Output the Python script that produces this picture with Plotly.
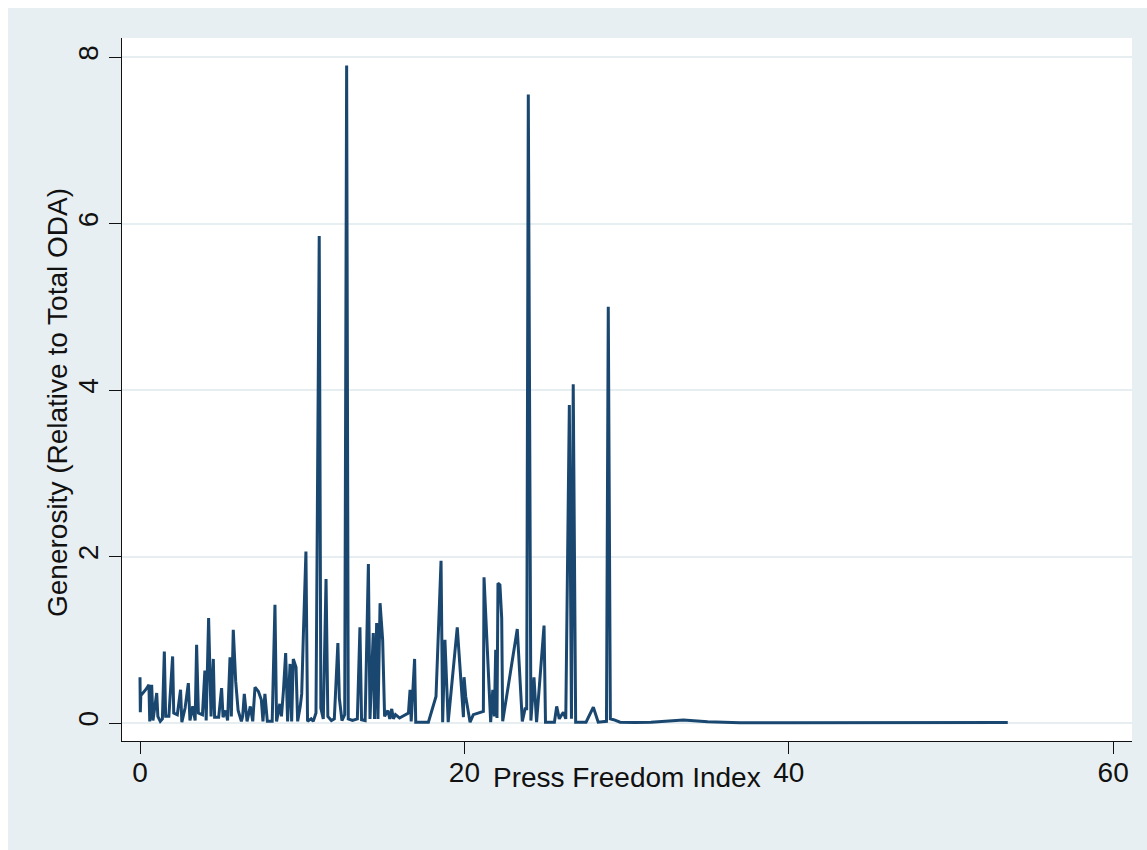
import plotly.graph_objects as go

# Press freedom score vs. aid generosity, one observation per recipient (sorted by x)
press_freedom = [
    0.00, 0.02, 0.05, 0.35, 0.55, 0.60, 0.72, 0.80, 1.03, 1.10, 1.25, 1.38,
    1.50, 1.58, 1.78, 2.01, 2.08, 2.30, 2.50, 2.58, 2.78, 2.98, 3.08, 3.25,
    3.40, 3.49, 3.60, 3.85, 4.00, 4.08, 4.23, 4.38, 4.52, 4.60, 4.85, 5.03,
    5.12, 5.28, 5.40, 5.55, 5.63, 5.75, 5.90, 6.05, 6.25, 6.33, 6.43, 6.60,
    6.80, 6.95, 7.09, 7.30, 7.48, 7.58, 7.70, 7.85, 8.15, 8.32, 8.42, 8.62,
    8.72, 8.84, 8.98, 9.10, 9.25, 9.35, 9.45, 9.62, 9.72, 9.88, 9.97, 10.07,
    10.23, 10.33, 10.55, 10.68, 10.85, 11.05, 11.15, 11.30, 11.47, 11.58,
    11.80, 11.98, 12.20, 12.29, 12.45, 12.62, 12.74, 12.84, 13.10, 13.40,
    13.56, 13.66, 13.88, 14.08, 14.18, 14.38, 14.46, 14.59, 14.67, 14.80,
    14.96, 15.08, 15.28, 15.40, 15.52, 15.62, 15.75, 16.00, 16.55, 16.65,
    16.72, 16.93, 17.00, 17.78, 18.25, 18.56, 18.66, 18.80, 19.00, 19.56,
    19.94, 19.98, 20.08, 20.35, 20.55, 21.17, 21.21, 21.62, 21.75, 21.85,
    21.93, 22.01, 22.07, 22.19, 22.30, 22.36, 23.26, 23.57, 23.74, 23.84,
    23.94, 24.10, 24.29, 24.45, 24.91, 25.00, 25.55, 25.69, 25.85, 26.00,
    26.10, 26.25, 26.47, 26.60, 26.71, 26.86, 27.50, 27.95, 28.25, 28.76,
    28.87, 29.00, 29.20, 29.60, 30.50, 31.50, 33.50, 35.00, 36.50, 37.00,
    40.00, 45.00, 50.00, 52.00, 53.50,
]
generosity = [
    0.55, 0.13, 0.33, 0.40, 0.46, 0.02, 0.46, 0.03, 0.36, 0.08, 0.02, 0.05,
    0.86, 0.08, 0.08, 0.80, 0.12, 0.10, 0.40, 0.01, 0.18, 0.48, 0.03, 0.20,
    0.03, 0.94, 0.12, 0.10, 0.63, 0.03, 1.26, 0.08, 0.77, 0.07, 0.07, 0.42,
    0.07, 0.15, 0.03, 0.79, 0.08, 1.12, 0.50, 0.15, 0.02, 0.08, 0.35, 0.02,
    0.20, 0.02, 0.43, 0.38, 0.28, 0.02, 0.35, 0.02, 0.02, 1.42, 0.02, 0.23,
    0.08, 0.38, 0.84, 0.02, 0.71, 0.02, 0.77, 0.67, 0.02, 0.20, 0.35, 1.05,
    2.06, 0.02, 0.05, 0.02, 0.12, 5.85, 0.18, 0.05, 1.73, 0.08,
    0.03, 0.05, 0.96, 0.30, 0.03, 0.10, 7.90, 0.05, 0.03, 0.05,
    1.15, 0.04, 0.03, 1.91, 0.05, 1.08, 0.05, 1.20, 0.05, 1.44,
    1.00, 0.08, 0.15, 0.05, 0.17, 0.05, 0.10, 0.06, 0.12, 0.40,
    0.02, 0.77, 0.01, 0.01, 0.32, 1.95, 0.01, 1.00, 0.01, 1.15,
    0.07, 0.55, 0.32, 0.01, 0.10, 0.14, 1.75, 0.01, 0.40, 0.08,
    0.88, 0.06, 1.68, 1.66, 1.26, 0.02, 1.13, 0.02, 0.17, 0.17,
    7.55, 0.03, 0.55, 0.01, 1.17, 0.01, 0.01, 0.20, 0.05, 0.10,
    0.13, 0.05, 3.82, 0.05, 4.07, 0.01, 0.01, 0.19, 0.01, 0.02,
    5.00, 0.05, 0.04, 0.01, 0.005, 0.01, 0.035, 0.015, 0.005, 0.003,
    0.003, 0.003, 0.003, 0.01, 0.005,
]

x_ticks = [0, 20, 40, 60]
y_ticks = [0, 2, 4, 6, 8]

x_title = "Press Freedom Index"
y_title = "Generosity (Relative to Total ODA)"

W, H = 1147, 850
ML, MR, MT, MB = 122, 15, 38, 109
PW, PH = W - ML - MR, H - MT - MB

BG = "#E8EFF2"
LINE = "#1A476F"
FONT = "Liberation Sans, Arial, Helvetica, sans-serif"


def px_to_paper_x(px):
    return (px - ML) / PW


def px_to_paper_y(py):
    return (H - MB - py) / PH


fig = go.Figure()
fig.add_trace(go.Scatter(
    x=press_freedom, y=generosity, mode="lines",
    line=dict(color=LINE, width=3),
    hoverinfo="x+y",
))

axis_common = dict(
    showline=True, linecolor="#111111", linewidth=1.4,
    ticks="outside", ticklen=12, tickwidth=1.4, tickcolor="#111111",
    tickfont=dict(family=FONT, size=28, color="#111111"),
    zeroline=False, mirror=False,
)

fig.update_xaxes(
    range=[-1.11, 61.16], tickvals=x_ticks, showgrid=False,
    ticklabelstandoff=-6, **axis_common,
)
fig.update_yaxes(
    range=[-0.216, 8.23], tickvals=y_ticks, tickangle=-90,
    showgrid=True, gridcolor="#E6EEF1", gridwidth=2, **axis_common,
)

# outer light panel, leaving a thin white border at top and left
fig.add_shape(type="rect", xref="paper", yref="paper", layer="below",
              x0=px_to_paper_x(0), x1=px_to_paper_x(8),
              y0=px_to_paper_y(H), y1=px_to_paper_y(0),
              fillcolor="white", line=dict(width=0))
fig.add_shape(type="rect", xref="paper", yref="paper", layer="below",
              x0=px_to_paper_x(0), x1=px_to_paper_x(W),
              y0=px_to_paper_y(8), y1=px_to_paper_y(0),
              fillcolor="white", line=dict(width=0))

fig.add_annotation(text=x_title, xref="paper", yref="paper",
                   x=px_to_paper_x(627), y=px_to_paper_y(777),
                   showarrow=False, xanchor="center", yanchor="middle",
                   font=dict(family=FONT, size=28, color="#111111"))
fig.add_annotation(text=y_title, xref="paper", yref="paper",
                   x=px_to_paper_x(57), y=px_to_paper_y(403),
                   showarrow=False, xanchor="center", yanchor="middle",
                   textangle=-90,
                   font=dict(family=FONT, size=28, color="#111111"))

fig.update_layout(
    width=W, height=H,
    margin=dict(l=ML, r=MR, t=MT, b=MB, pad=0),
    paper_bgcolor=BG, plot_bgcolor="white",
    showlegend=False,
)

fig.write_html("out.html")
